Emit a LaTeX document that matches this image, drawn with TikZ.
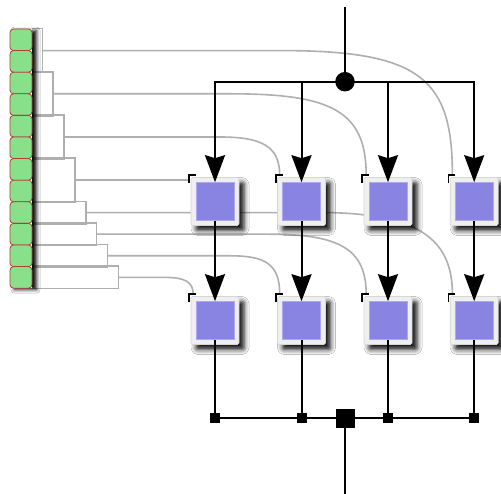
\documentclass[tikz,border=0pt]{standalone}
\usetikzlibrary{arrows.meta,shadows.blur,backgrounds}
\definecolor{cellfill}{RGB}{239,239,239}
\definecolor{celldraw}{RGB}{214,214,214}
\definecolor{corefill}{RGB}{137,131,226}
\definecolor{coredraw}{RGB}{172,168,242}
\definecolor{pinfill}{RGB}{136,224,138}
\definecolor{pindraw}{RGB}{178,62,58}
\definecolor{wiregray}{RGB}{175,175,175}
\begin{document}
\begin{tikzpicture}[x=1pt,y=-1pt,
  cell/.style={draw=celldraw, line width=0.6pt, fill=cellfill, minimum size=48pt, inner sep=0pt, rounded corners=1.5pt,
    blur shadow={shadow xshift=5pt, shadow yshift=-5pt, shadow blur radius=5pt, shadow opacity=95}},
  core/.style={draw=coredraw, line width=0.6pt, fill=corefill, minimum size=38pt, inner sep=0pt},
  pin/.style={draw=pindraw, line width=0.8pt, fill=pinfill, minimum width=22pt, minimum height=21.6pt, inner sep=0pt, rounded corners=3.5pt},
  wire/.style={draw=wiregray, line width=1.6pt},
  port/.style={draw=black, line width=1.8pt},
  bus/.style={draw=black, line width=2pt},
  arr/.style={bus, -{Stealth[length=27pt, width=20pt, inset=3pt]}},
  tap/.style={fill=black, minimum size=10pt, inner sep=0pt},
  bigtap/.style={fill=black, minimum size=19pt, inner sep=0pt},
  junction/.style={circle, fill=black, minimum size=19.5pt, inner sep=0pt},
  ]
\useasboundingbox (0,0) rectangle (501,494);

% pin column shadow and pins
\path[fill=white, blur shadow={shadow xshift=4.5pt, shadow yshift=-1.5pt, shadow blur radius=3.5pt, shadow opacity=95}] (10,29) rectangle (32,288.2);
\foreach \k in {1,...,12} {
  \node[pin] (g\k) at (21,{39.8+21.6*(\k-1)}) {};
}

% bracket mid points
\coordinate (m1) at (42.3,50.6);
\coordinate (m2) at (53.2,93.8);
\coordinate (m3) at (64,137);
\coordinate (m4) at (74.9,180.2);
\coordinate (m5) at (85.7,212.6);
\coordinate (m6) at (96.6,234.2);
\coordinate (m7) at (107.4,255.8);
\coordinate (m8) at (118.3,277.4);

% cells
\foreach \c/\x in {1/215,2/301.5,3/388,4/474.2} {
  \foreach \r/\y in {1/201.5,2/320.5} {
    \node[cell] (n\c\r) at (\x,\y) {};
    \node[core] (i\c\r) at (\x,\y) {};
    \coordinate (c\c\r) at ([shift={(-1.5,-2)}]n\c\r.north west);
    \coordinate (p\c\r) at ([shift={(2.5,-2)}]n\c\r.north west);
    \draw[port] ([shift={(7,0)}]c\c\r) -- (c\c\r) -- ([shift={(0,8)}]c\c\r);
  }
}

% gray wiring behind
\begin{scope}[on background layer]
\fill[white] (0,0) rectangle (501,494);
\draw[wire] (g1.north east) -| (m1) |- (g2.south east);
\draw[wire] (g3.north east) -| (m2) |- (g4.south east);
\draw[wire] (g5.north east) -| (m3) |- (g6.south east);
\draw[wire] (g7.north east) -| (m4) |- (g8.south east);
\draw[wire] (g9.north east) -| (m5) |- (g9.south east);
\draw[wire] (g10.north east) -| (m6) |- (g10.south east);
\draw[wire] (g11.north east) -| (m7) |- (g11.south east);
\draw[wire] (g12.north east) -| (m8) |- (g12.south east);

\draw[wire] (m1) -- ++(240,0) .. controls +(140,0) and +(0,-95) .. (p41);
\draw[wire] (m2) -- ++(177,0) .. controls +(100,0) and +(0,-65) .. (p31);
\draw[wire] (m3) -- ++(156,0) .. controls +(40,0) and +(0,-30) .. (p21);
\draw[wire] (m4) -- (m4 -| c11);
\draw[wire] (m5) -- ++(244,0) .. controls +(90,2) and +(0,-54) .. (p42);
\draw[wire] (m6) -- ++(173,0) .. controls +(70,0) and +(0,-45) .. (p32);
\draw[wire] (m7) -- ++(123,0) .. controls +(35,0) and +(0,-30) .. (p22);
\draw[wire] (m8) -- ++(47,0) .. controls +(20,0) and +(0,-12) .. (p12);
\end{scope}

% top distribution
\coordinate (top) at (345,7);
\node[junction] (dot) at (345,81.7) {};
\draw[bus] (top) -- (dot);
\foreach \c in {1,...,4} {
  \draw[arr] (dot.center) -| (i\c1.north);
  \draw[arr] (i\c1.south) -- (i\c2.north);
}

% bottom collection
\node[tap] (s1) at (215,418.3) {};
\node[tap] (s2) at (301.5,418.3) {};
\node[tap] (s3) at (388,418.3) {};
\node[tap] (s4) at (474.2,418.3) {};
\node[bigtap] (B) at (345,418.3) {};
\coordinate (out) at (345,494);
\foreach \c in {1,...,4} {
  \draw[bus] (i\c2.south) -- (s\c);
}
\draw[bus] (s1) -- (s4);
\draw[bus] (B) -- (out);
\end{tikzpicture}
\end{document}
